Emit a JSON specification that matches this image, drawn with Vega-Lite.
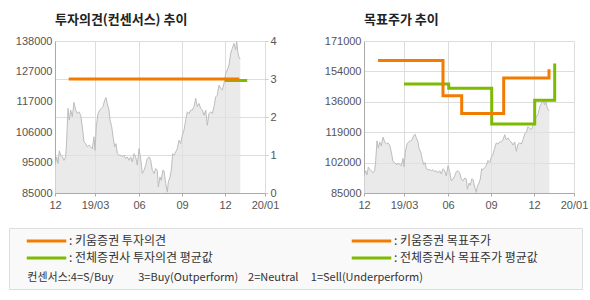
{
  "$schema": "https://vega.github.io/schema/vega-lite/v6.json",
  "background": "white",
  "padding": {"left": 8, "top": 14, "right": 0, "bottom": 0},
  "spacing": 45,
  "datasets": {
    "price": [
      {"i": 0, "p": 94700}, {"i": 1.7, "p": 97600}, {"i": 3, "p": 95300}, {"i": 4.3, "p": 99700},
      {"i": 5.7, "p": 98200}, {"i": 7.3, "p": 97600}, {"i": 9, "p": 96400}, {"i": 10.7, "p": 97600},
      {"i": 11.7, "p": 103400}, {"i": 13, "p": 114500}, {"i": 14.3, "p": 110400}, {"i": 15.7, "p": 113900},
      {"i": 17.3, "p": 111600}, {"i": 19, "p": 116600}, {"i": 20.7, "p": 113900}, {"i": 22.3, "p": 112700},
      {"i": 24, "p": 113300}, {"i": 25.7, "p": 112100}, {"i": 27.3, "p": 108100}, {"i": 29, "p": 102800},
      {"i": 30.7, "p": 102200}, {"i": 32.3, "p": 101100}, {"i": 34, "p": 101700}, {"i": 35.7, "p": 101100},
      {"i": 37.3, "p": 100500}, {"i": 39, "p": 104600}, {"i": 40, "p": 99900}, {"i": 41.3, "p": 108100},
      {"i": 43, "p": 112700}, {"i": 44.7, "p": 113900}, {"i": 46.3, "p": 114500}, {"i": 48, "p": 115100},
      {"i": 49.7, "p": 117400}, {"i": 51, "p": 118300}, {"i": 52.3, "p": 116200}, {"i": 54, "p": 113900},
      {"i": 55, "p": 110400}, {"i": 56.7, "p": 108100}, {"i": 58.3, "p": 104000}, {"i": 59.7, "p": 101100},
      {"i": 61, "p": 102200}, {"i": 62.3, "p": 98700}, {"i": 64, "p": 98200}, {"i": 65.7, "p": 98200},
      {"i": 67.3, "p": 97600}, {"i": 69, "p": 98200}, {"i": 70.7, "p": 97000}, {"i": 72.3, "p": 97600},
      {"i": 74, "p": 96400}, {"i": 75.7, "p": 97600}, {"i": 77.3, "p": 95800}, {"i": 79, "p": 98700},
      {"i": 80.7, "p": 97600}, {"i": 82.3, "p": 94700}, {"i": 84, "p": 100500}, {"i": 85.7, "p": 97000},
      {"i": 87.3, "p": 91800}, {"i": 89, "p": 92900}, {"i": 90.7, "p": 94700}, {"i": 92.3, "p": 97000},
      {"i": 94, "p": 97600}, {"i": 95.7, "p": 96400}, {"i": 97.3, "p": 92900}, {"i": 99, "p": 91800},
      {"i": 100.7, "p": 93500}, {"i": 102.3, "p": 92900}, {"i": 103.3, "p": 87100}, {"i": 105, "p": 90600},
      {"i": 106.3, "p": 89400}, {"i": 107.7, "p": 92900}, {"i": 109, "p": 92700}, {"i": 110.7, "p": 88300},
      {"i": 112.3, "p": 85300}, {"i": 113.3, "p": 88800}, {"i": 115, "p": 90600}, {"i": 116.3, "p": 92900},
      {"i": 117.7, "p": 98700}, {"i": 119, "p": 98200}, {"i": 120.7, "p": 99300}, {"i": 122.3, "p": 100500},
      {"i": 124, "p": 103400}, {"i": 125.7, "p": 102200}, {"i": 127.3, "p": 105200}, {"i": 129, "p": 106900},
      {"i": 130.7, "p": 110400}, {"i": 132.3, "p": 113300}, {"i": 134, "p": 112700}, {"i": 135.7, "p": 113900},
      {"i": 137.3, "p": 113900}, {"i": 139, "p": 115100}, {"i": 140.7, "p": 118000}, {"i": 142.3, "p": 115100},
      {"i": 144, "p": 116200}, {"i": 145.7, "p": 114500}, {"i": 147.3, "p": 113900}, {"i": 149, "p": 112100},
      {"i": 150.7, "p": 113900}, {"i": 152.3, "p": 108600}, {"i": 154, "p": 112700}, {"i": 155.7, "p": 113300},
      {"i": 157.3, "p": 112700}, {"i": 159, "p": 115100}, {"i": 160.7, "p": 118500}, {"i": 162.3, "p": 119100},
      {"i": 164, "p": 122600}, {"i": 165.7, "p": 121500}, {"i": 167.3, "p": 120900}, {"i": 169, "p": 123200},
      {"i": 170.7, "p": 126700}, {"i": 172.3, "p": 127900}, {"i": 174, "p": 129600}, {"i": 175.7, "p": 133700},
      {"i": 177.3, "p": 135400}, {"i": 179, "p": 137200}, {"i": 180.7, "p": 134900}, {"i": 181.7, "p": 137800},
      {"i": 183, "p": 133700}, {"i": 184.3, "p": 131900}, {"i": 185.3, "p": 131900}
    ],
    "opinion": [
      {"s": "전체증권사 투자의견 평균값", "i": 170, "v": 2.96},
      {"s": "전체증권사 투자의견 평균값", "i": 190.7, "v": 3.0},
      {"s": "키움증권 투자의견", "i": 13.7, "v": 3},
      {"s": "키움증권 투자의견", "i": 184.3, "v": 3}
    ],
    "target": [
      {"s": "전체증권사 목표주가 평균값", "i": 40, "v": 146700},
      {"s": "전체증권사 목표주가 평균값", "i": 84.7, "v": 144300},
      {"s": "전체증권사 목표주가 평균값", "i": 127.7, "v": 124100},
      {"s": "전체증권사 목표주가 평균값", "i": 170.7, "v": 137500},
      {"s": "전체증권사 목표주가 평균값", "i": 190.7, "v": 158300},
      {"s": "키움증권 목표주가", "i": 14, "v": 160000},
      {"s": "키움증권 목표주가", "i": 79, "v": 140000},
      {"s": "키움증권 목표주가", "i": 97.7, "v": 130000},
      {"s": "키움증권 목표주가", "i": 139.7, "v": 150000},
      {"s": "키움증권 목표주가", "i": 185, "v": 155000}
    ]
  },
  "config": {
    "view": {"stroke": null},
    "font": "Noto Sans CJK KR",
    "axis": {
      "labelFont": "Liberation Sans", "labelFontSize": 11, "labelColor": "#555555",
      "title": null, "domainColor": "#aaaaaa", "tickColor": "#aaaaaa",
      "gridColor": "#dddddd", "labelFlush": false, "labelOverlap": false
    },
    "title": {
      "font": "Noto Sans CJK KR", "fontSize": 13, "fontWeight": "bold", "color": "#222222",
      "anchor": "start", "frame": "group", "offset": 8
    },
    "legend": {
      "orient": "none", "legendX": -46, "legendY": 187,
      "columns": 2, "columnPadding": 127, "rowPadding": 3, "clipHeight": 14,
      "symbolType": "stroke", "symbolSize": 1560, "symbolStrokeWidth": 3,
      "symbolOffset": 10, "labelOffset": 1,
      "labelFont": "Noto Sans CJK KR", "labelFontSize": 12, "labelColor": "#333333", "labelLimit": 0,
      "titleOrient": "bottom", "titleAnchor": "start", "titleFont": "Noto Sans CJK KR",
      "titleFontSize": 11, "titleFontWeight": "normal", "titleColor": "#333333", "titlePadding": 7, "titleLimit": 0,
      "fillColor": "#f9f9f9", "strokeColor": "#dddddd", "padding": 6
    }
  },
  "hconcat": [
    {
      "width": 210, "height": 152,
      "title": "투자의견(컨센서스) 추이",
      "layer": [
        {
          "data": {"name": "price"},
          "mark": {"type": "area", "clip": true, "color": "#e1e1e1", "line": {"color": "#bdbdbd", "strokeWidth": 1}},
          "encoding": {
            "x": {"field": "i", "type": "quantitative", "scale": {"domain": [0, 210], "nice": false, "zero": false},
              "axis": {"values": [0, 40, 84, 127, 170, 210], "grid": true, "tickSize": 3, "labelPadding": 3, "labelOverlap": false, "labelFlush": false,
                "labelExpr": "datum.value==0?'12':datum.value==40?'19/03':datum.value==84?'06':datum.value==127?'09':datum.value==170?'12':'20/01'"}},
            "y": {"field": "p", "type": "quantitative", "scale": {"domain": [85000, 138000], "nice": false, "zero": false},
              "axis": {"values": [85000, 95600, 106200, 116800, 127400, 138000], "format": "d", "grid": false, "ticks": false, "labelPadding": 3, "labelOverlap": false,
                "labelExpr": "datum.value==95600?'95000':datum.value==106200?'106000':datum.value==116800?'117000':datum.value==127400?'127000':datum.label"}}
          }
        },
        {
          "data": {"name": "opinion"},
          "mark": {"type": "line", "interpolate": "step-after", "strokeWidth": 3},
          "encoding": {
            "x": {"field": "i", "type": "quantitative", "scale": {"domain": [0, 210], "nice": false, "zero": false},
              "axis": {"values": [0, 40, 84, 127, 170, 210], "grid": true, "tickSize": 3, "labelPadding": 3, "labelOverlap": false, "labelFlush": false,
                "labelExpr": "datum.value==0?'12':datum.value==40?'19/03':datum.value==84?'06':datum.value==127?'09':datum.value==170?'12':'20/01'"}},
            "y": {"field": "v", "type": "quantitative", "scale": {"domain": [0, 4], "nice": false},
              "axis": {"orient": "right", "values": [0, 1, 2, 3, 4], "grid": true, "domain": false, "tickSize": 3, "tickColor": "#cccccc", "labelPadding": 2, "labelOverlap": false}},
            "color": {"field": "s", "type": "nominal",
              "scale": {"domain": ["키움증권 투자의견", "전체증권사 투자의견 평균값", "키움증권 목표주가", "전체증권사 목표주가 평균값"],
                        "range": ["#f27c00", "#7cbb00", "#f27c00", "#7cbb00"]},
              "legend": {"title": "\u200b\u00a0\u00a0\u00a0\u00a0\u00a0컨센서스:4=S/Buy\u00a0\u00a0\u00a0\u00a0\u00a0\u00a0\u00a0\u00a0\u00a0 3=Buy(Outperform)\u00a0\u00a0\u00a0 2=Neutral\u00a0\u00a0\u00a0\u00a0 1=Sell(Underperform)",
                "labelExpr": "': ' + datum.label + (indexof(datum.label, '목표주가') >= 0 ? '\u00a0\u00a0\u00a0\u00a0\u00a0\u00a0\u00a0\u00a0\u00a0\u00a0\u00a0\u00a0\u00a0\u00a0\u200b' : '')"}}
          }
        }
      ],
      "resolve": {"scale": {"y": "independent"}, "axis": {"y": "independent"}}
    },
    {
      "width": 210, "height": 152,
      "title": "목표주가 추이",
      "layer": [
        {
          "data": {"name": "price"},
          "mark": {"type": "area", "clip": true, "color": "#e1e1e1", "line": {"color": "#bdbdbd", "strokeWidth": 1}},
          "encoding": {
            "x": {"field": "i", "type": "quantitative", "scale": {"domain": [0, 210], "nice": false, "zero": false},
              "axis": {"values": [0, 40, 84, 127, 170, 210], "grid": true, "tickSize": 3, "labelPadding": 3, "labelOverlap": false, "labelFlush": false,
                "labelExpr": "datum.value==0?'12':datum.value==40?'19/03':datum.value==84?'06':datum.value==127?'09':datum.value==170?'12':'20/01'"}},
            "y": {"field": "p", "type": "quantitative", "scale": {"domain": [85000, 171000], "nice": false, "zero": false},
              "axis": {"values": [85000, 102200, 119400, 136600, 153800, 171000], "format": "d", "grid": true, "ticks": false, "labelPadding": 3, "labelOverlap": false,
                "labelExpr": "datum.value==102200?'102000':datum.value==119400?'119000':datum.value==136600?'136000':datum.value==153800?'154000':datum.label"}}
          }
        },
        {
          "data": {"name": "target"},
          "mark": {"type": "line", "interpolate": "step-after", "strokeWidth": 3},
          "encoding": {
            "x": {"field": "i", "type": "quantitative", "scale": {"domain": [0, 210], "nice": false, "zero": false},
              "axis": {"values": [0, 40, 84, 127, 170, 210], "grid": true, "tickSize": 3, "labelPadding": 3, "labelOverlap": false, "labelFlush": false,
                "labelExpr": "datum.value==0?'12':datum.value==40?'19/03':datum.value==84?'06':datum.value==127?'09':datum.value==170?'12':'20/01'"}},
            "y": {"field": "v", "type": "quantitative", "scale": {"domain": [85000, 171000], "nice": false, "zero": false},
              "axis": {"values": [85000, 102200, 119400, 136600, 153800, 171000], "format": "d", "grid": true, "ticks": false, "labelPadding": 3, "labelOverlap": false,
                "labelExpr": "datum.value==102200?'102000':datum.value==119400?'119000':datum.value==136600?'136000':datum.value==153800?'154000':datum.label"}},
            "color": {"field": "s", "type": "nominal",
              "scale": {"domain": ["키움증권 투자의견", "전체증권사 투자의견 평균값", "키움증권 목표주가", "전체증권사 목표주가 평균값"],
                        "range": ["#f27c00", "#7cbb00", "#f27c00", "#7cbb00"]},
              "legend": {"title": "\u200b\u00a0\u00a0\u00a0\u00a0\u00a0컨센서스:4=S/Buy\u00a0\u00a0\u00a0\u00a0\u00a0\u00a0\u00a0\u00a0\u00a0 3=Buy(Outperform)\u00a0\u00a0\u00a0 2=Neutral\u00a0\u00a0\u00a0\u00a0 1=Sell(Underperform)",
                "labelExpr": "': ' + datum.label + (indexof(datum.label, '목표주가') >= 0 ? '\u00a0\u00a0\u00a0\u00a0\u00a0\u00a0\u00a0\u00a0\u00a0\u00a0\u00a0\u00a0\u00a0\u00a0\u200b' : '')"}}
          }
        }
      ]
    }
  ],
  "resolve": {"scale": {"color": "shared"}, "legend": {"color": "shared"}}
}
